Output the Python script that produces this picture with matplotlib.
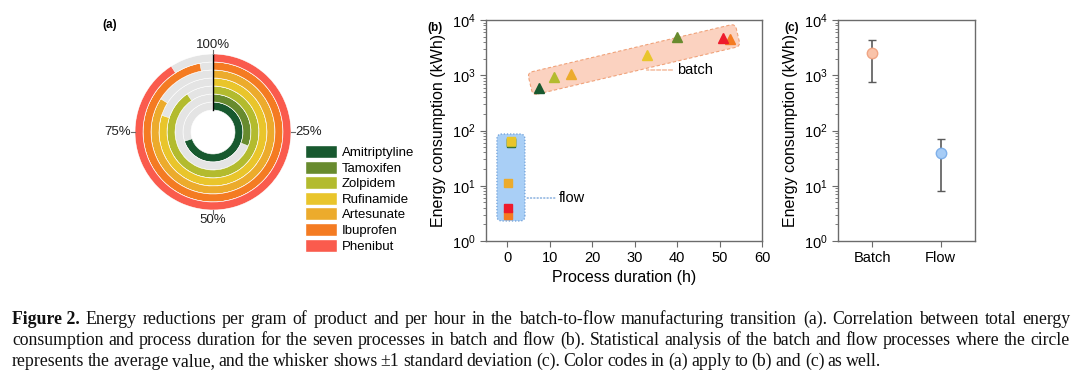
import numpy as np
import matplotlib
matplotlib.use("Agg")
import matplotlib.pyplot as plt
import matplotlib.transforms as mtransforms
from matplotlib.patches import Patch, FancyBboxPatch

# ---- data ----
drugs = ["Amitriptyline", "Tamoxifen", "Zolpidem", "Rufinamide", "Artesunate", "Ibuprofen", "Phenibut"]
colors = ["#18592f", "#688b2e", "#b3bb2e", "#e9c52b", "#ecab2c", "#f47b22", "#fa5b4d"]
marker_colors = ["#18592f", "#688b2e", "#b3bb2e", "#e9c52b", "#ecab2c", "#f47b22", "#ee1b2c"]
reduction_pct = [70, 31, 90.5, 80, 84, 97, 91]

batch_hours = [7.5, 40, 11, 33, 15, 52.5, 50.9]
batch_kwh = [580, 4860, 918, 2330, 1055, 4470, 4670]
flow_hours = [0.9, 1.0, 1.0, 0.9, 0.2, 0.1, 0.1]
flow_kwh = [60, 62, 63, 65, 11.1, 3.0, 3.9]

groups = ["Batch", "Flow"]
group_mean = [2560, 39]
group_sd = [1810, 31]

caption = [
    ("Figure 2.", "Energy reductions per gram of product and per hour in the batch-to-flow manufacturing transition (a). Correlation between total energy"),
    ("", "consumption and process duration for the seven processes in batch and flow (b). Statistical analysis of the batch and flow processes where the circle"),
    ("", "represents the average value, and the whisker shows \u00b11 standard deviation (c). Color codes in (a) apply to (b) and (c) as well."),
]

plt.rcParams["font.family"] = ["Liberation Sans", "DejaVu Sans"]
plt.rcParams["mathtext.fontset"] = "custom"
plt.rcParams["mathtext.rm"] = "Liberation Sans"
AX_GRAY = "#6b6b6b"

W, H = 1080, 378
fig = plt.figure(figsize=(W / 100, H / 100), dpi=100)


def rect(left, top, width, height):
    return [left / W, 1 - (top + height) / H, width / W, height / H]


# ---- (a) radial bars ----
hole, ring = 2.75, 1.0
outer = hole + ring * len(drugs)
axp = fig.add_axes(rect(135, 54, 156, 156), projection="polar")
axp.set_theta_zero_location("N")
axp.set_theta_direction(-1)
for i, (pct, c) in enumerate(zip(reduction_pct, colors)):
    axp.bar(0, ring, width=2 * np.pi, bottom=hole + i * ring, align="edge",
            color="#e4e4e4", edgecolor="white", linewidth=0.4)
    axp.bar(0, ring, width=2 * np.pi * pct / 100, bottom=hole + i * ring, align="edge",
            color=c, edgecolor="white", linewidth=0.4)
axp.plot([0, 0], [hole, outer], color="black", lw=1)
axp.set_ylim(0, outer)
axp.set_xticks([])
axp.set_yticks([])
axp.spines["polar"].set_visible(False)
axp.grid(False)
for ang, lab, ha, va, rr in [(0, "100%", "center", "bottom", 10.1),
                              (90, "25%", "left", "center", 10.3),
                              (180, "50%", "center", "top", 10.3),
                              (270, "75%", "right", "center", 10.3)]:
    th = np.radians(ang)
    axp.plot([th, th], [outer, outer + 0.45], color=AX_GRAY, lw=0.8, clip_on=False)
    axp.text(th, rr, lab, ha=ha, va=va, fontsize=9.5, color="#222222")

fig.text(110 / W, 1 - 25 / H, "(a)", fontsize=8.5, weight="bold", ha="center", va="center")
handles = [Patch(facecolor=c, edgecolor="white", label=d) for d, c in zip(drugs, colors)]
fig.legend(handles=handles, loc="upper left", bbox_to_anchor=(305 / W, 1 - 145 / H),
           frameon=False, fontsize=9.5, handlelength=2.4, handleheight=1.15,
           labelspacing=0.12, handletextpad=0.4, borderpad=0, borderaxespad=0)


def style_axes(ax):
    for s in ax.spines.values():
        s.set_color(AX_GRAY)
        s.set_linewidth(1)
    ax.tick_params(which="both", direction="out", color=AX_GRAY, labelsize=10.5)
    ax.tick_params(which="major", length=4)
    ax.tick_params(which="minor", length=2)


def rounded_band(ax, p0, p1, thick, **kw):
    (x0, y0), (x1, y1) = ax.transData.transform([p0, p1])
    ang = np.degrees(np.arctan2(y1 - y0, x1 - x0))
    length = np.hypot(x1 - x0, y1 - y0)
    cx, cy = (x0 + x1) / 2, (y0 + y1) / 2
    box = FancyBboxPatch((cx - length / 2, cy - thick / 2), length, thick,
                         boxstyle="round,pad=0,rounding_size=5",
                         transform=mtransforms.Affine2D().rotate_deg_around(cx, cy, ang),
                         clip_on=False, zorder=1, **kw)
    ax.add_artist(box)


# ---- (b) scatter ----
axb = fig.add_axes(rect(486, 20, 276, 221))
axb.set_yscale("log")
axb.set_xlim(-5, 60)
axb.set_ylim(1, 1e4)
axb.set_xticks(range(0, 61, 10))
style_axes(axb)
axb.tick_params(axis="x", which="minor", length=0)
rounded_band(axb, (5.4, 695), (54.3, 5350), 23, facecolor="#fbd2c0",
             edgecolor="#f0a27a", linestyle=(0, (3, 2)), linewidth=0.8)
rounded_band(axb, (0.87, 2.3), (0.87, 86.5), 28, facecolor="#a9cff6",
             edgecolor="#6f9fd8", linestyle=(0, (1, 1.5)), linewidth=0.9)
for i in range(len(drugs)):
    axb.plot(batch_hours[i], batch_kwh[i], marker="^", ms=7, color=marker_colors[i],
             linestyle="none", zorder=3)
    axb.plot(flow_hours[i], flow_kwh[i], marker="s", ms=5.5, color=marker_colors[i],
             linestyle="none", zorder=3)
axb.annotate("batch", xy=(32.8, 1245), xytext=(39.9, 1245), fontsize=10.5, va="center",
             arrowprops=dict(arrowstyle="-", linestyle="--", color="#f0a27a", lw=0.8,
                             shrinkA=1, shrinkB=0))
axb.annotate("flow", xy=(4.2, 6.0), xytext=(12.2, 6.0), fontsize=10.5, va="center",
             arrowprops=dict(arrowstyle="-", linestyle=":", color="#6f9fd8", lw=0.9,
                             shrinkA=1, shrinkB=0))
axb.set_xlabel("Process duration (h)", fontsize=11.5, labelpad=3)
axb.set_ylabel("Energy consumption (kWh)", fontsize=11.5, labelpad=4)
fig.text(435 / W, 1 - 28 / H, "(b)", fontsize=8.5, weight="bold", ha="center", va="center")

# ---- (c) mean +- sd ----
axc = fig.add_axes(rect(838, 20, 137, 221))
axc.set_yscale("log")
axc.set_xlim(-0.5, 1.5)
axc.set_ylim(1, 1e4)
style_axes(axc)
face = ["#f9c3a9", "#a6ccf6"]
edge = ["#f0a584", "#7fb0ea"]
for i, g in enumerate(groups):
    axc.errorbar(i, group_mean[i], yerr=group_sd[i], fmt="o", ms=7.5, mfc=face[i],
                 mec=edge[i], mew=1, ecolor="#5a5a5a", elinewidth=1.2, capsize=3,
                 capthick=1.2)
axc.set_xticks(range(len(groups)))
axc.set_xticklabels(groups)
axc.tick_params(axis="x", which="minor", length=0)
axc.set_ylabel("Energy consumption (kWh)", fontsize=11.5, labelpad=4)
fig.text(792 / W, 1 - 28 / H, "(c)", fontsize=8.5, weight="bold", ha="center", va="center")

# ---- caption, justified lines ----
renderer = fig.canvas.get_renderer()
cap_font = dict(family="Liberation Serif", fontsize=12.8, color="#111111")
x_left, x_right = 12, 1070
for k, (bold, body) in enumerate(caption):
    y = 1 - (324 + 21 * k) / H
    words = ([(bold, "bold")] if bold else []) + [(w, "normal") for w in body.split()]
    pieces = []
    for w, wt in words:
        t = fig.text(0, y, w, weight=wt, **cap_font)
        pieces.append((t, t.get_window_extent(renderer).width))
    total = sum(p[1] for p in pieces)
    if k < len(caption) - 1:
        gap = (x_right - x_left - total) / (len(pieces) - 1)
    else:
        gap = 3.5
    x = x_left
    for t, w in pieces:
        t.set_x(x / W)
        x += w + gap

fig.savefig("out.png", dpi=100)
